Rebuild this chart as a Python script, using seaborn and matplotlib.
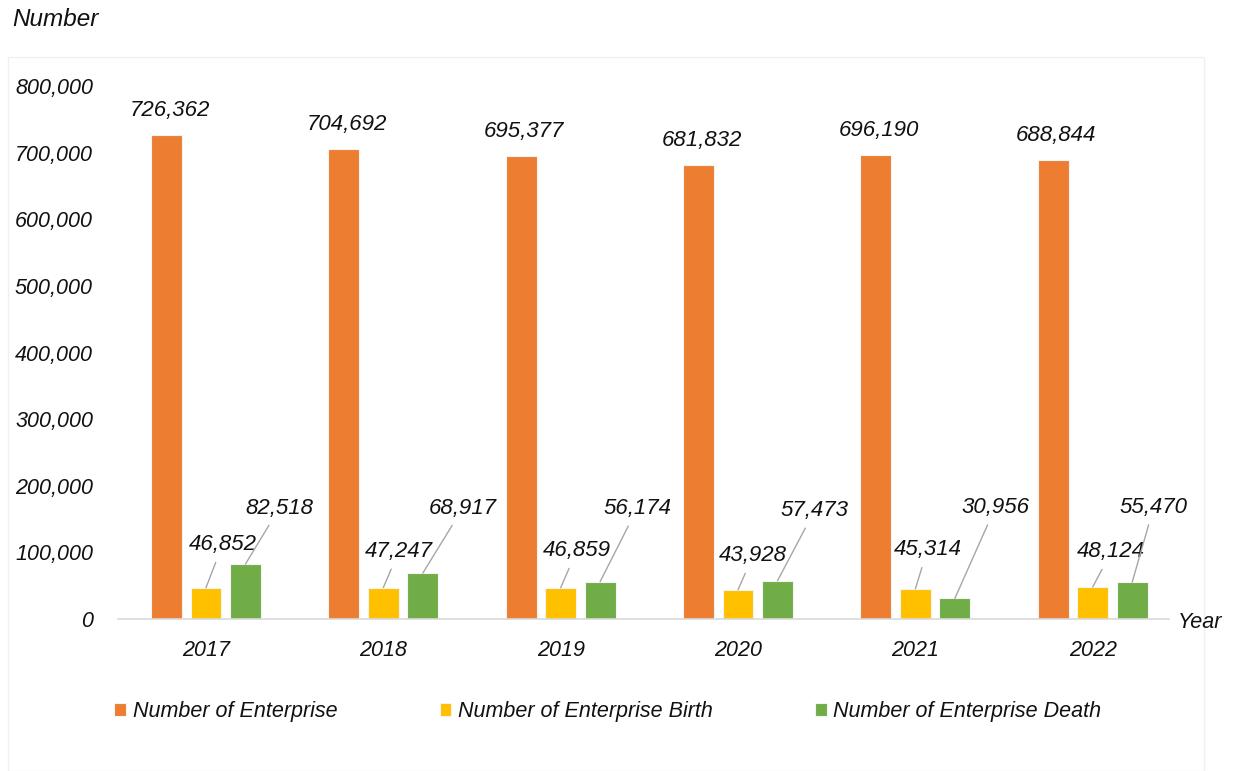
import matplotlib
matplotlib.use("Agg")
import matplotlib.pyplot as plt
import seaborn as sns
import pandas as pd
from matplotlib.patches import Rectangle

years = ["2017", "2018", "2019", "2020", "2021", "2022"]
enterprise = [726362, 704692, 695377, 681832, 696190, 688844]
births = [46852, 47247, 46859, 43928, 45314, 48124]
deaths = [82518, 68917, 56174, 57473, 30956, 55470]
series_names = ["Number of Enterprise", "Number of Enterprise Birth", "Number of Enterprise Death"]
colors = ["#ED7D31", "#FFC000", "#70AD47"]

# label offsets in pixels (dx, dy) for birth / death labels
birth_off = [(16.5, 43), (15.5, 36), (16, 37), (15, 34), (12, 39), (18.5, 35)]
death_off = [(34, 56), (40, 65), (37, 73), (37, 70), (40.5, 91), (21.5, 75)]

df = pd.DataFrame({
    "Year": years * 3,
    "Value": enterprise + births + deaths,
    "Series": [series_names[0]] * 6 + [series_names[1]] * 6 + [series_names[2]] * 6,
})

sns.set_theme(style="white")
plt.rcParams["font.family"] = ["Liberation Sans", "DejaVu Sans"]
plt.rcParams["font.style"] = "italic"

fig = plt.figure(figsize=(12.36, 7.71), dpi=100)
W, H = 1236, 771
ax = fig.add_axes([118 / W, 1 - 619 / H, (1169 - 118) / W, (619 - 86) / H])

sns.barplot(data=df, x="Year", y="Value", hue="Series", palette=colors,
            width=0.668, gap=0.22, ax=ax, edgecolor="#f4f4f4", linewidth=0.8,
            legend=True, saturation=1)

ax.set_ylim(0, 800000)
ax.set_xlim(-0.496, 5.43)
ax.set_yticks(range(0, 800001, 100000))
ax.set_yticklabels([f"{v:,}" for v in range(0, 800001, 100000)])
ax.set_xlabel("")
ax.set_ylabel("")
txtc = "#111111"
ax.tick_params(axis="y", length=0, pad=18, labelsize=15.5, labelcolor=txtc)
ax.tick_params(axis="x", length=0, pad=15, labelsize=15.5, labelcolor=txtc)
for s in ["top", "right", "left"]:
    ax.spines[s].set_visible(False)
ax.spines["bottom"].set_color("#d9d9d9")
ax.spines["bottom"].set_linewidth(1.2)

for k, cont in enumerate(ax.containers):
    vals = [enterprise, births, deaths][k]
    for i, bar in enumerate(cont):
        x = bar.get_x() + bar.get_width() / 2
        v = vals[i]
        label = f"{v:,}"
        if k == 0:
            ax.annotate(label, (x, v), xytext=(3, 14), textcoords="offset pixels",
                        ha="center", va="bottom", fontsize=16, color=txtc)
        else:
            off = (birth_off if k == 1 else death_off)[i]
            ax.annotate(label, (x, v), xytext=off, textcoords="offset pixels",
                        ha="center", va="center", fontsize=16, color=txtc,
                        arrowprops=dict(arrowstyle="-", color="#a6a6a6", lw=1,
                                        shrinkA=3, shrinkB=0))

handles, labels = ax.get_legend_handles_labels()
ax.get_legend().remove()
fig.legend(handles, labels, loc="center left", bbox_to_anchor=(95 / W, 1 - 712 / H),
           ncol=3, frameon=False, fontsize=15.5, handlelength=0.55, handleheight=0.55,
           handletextpad=0.3, columnspacing=4.75, labelcolor=txtc)

fig.text(12 / W, 1 - 20 / H, "Number", ha="left", va="center", fontsize=17.5, color=txtc)
fig.text(1178 / W, 1 - 623 / H, "Year", ha="left", va="center", fontsize=15.5, color=txtc)

fig.patches.append(Rectangle((8 / W, 0), (1204 - 8) / W, 1 - 57 / H, transform=fig.transFigure,
                             fill=False, edgecolor="#f0f0f0", lw=1))

fig.savefig("out.png", dpi=100)
